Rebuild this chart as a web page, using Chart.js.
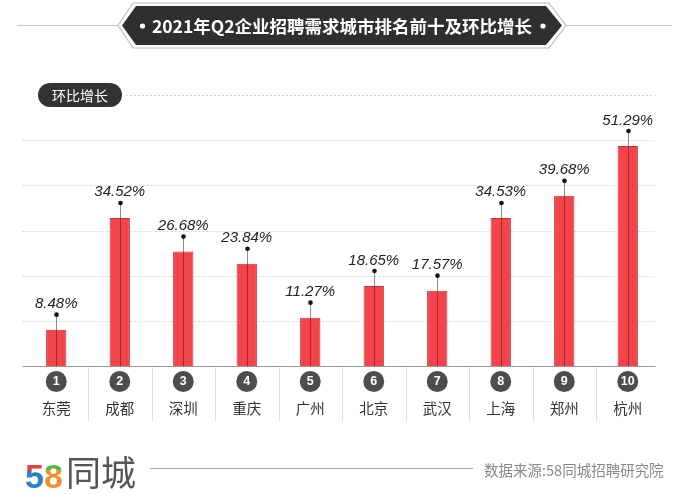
<!DOCTYPE html>
<html>
<head>
<meta charset="utf-8">
<script src="https://cdn.jsdelivr.net/npm/chart.js@4"></script>
<style>
  html, body { margin: 0; padding: 0; background: #fff; }
  #wrap { width: 679px; height: 495px; position: relative; }
</style>
</head>
<body>
<div id="wrap"><canvas id="chart" width="679" height="495"></canvas></div>
<script>
// Data
const cities = ['东莞', '成都', '深圳', '重庆', '广州', '北京', '武汉', '上海', '郑州', '杭州'];
const ranks = ['1', '2', '3', '4', '5', '6', '7', '8', '9', '10'];
const growth = [8.48, 34.52, 26.68, 23.84, 11.27, 18.65, 17.57, 34.53, 39.68, 51.29];
const titleText = '2021年Q2企业招聘需求城市排名前十及环比增长';
const badgeText = '环比增长';
const sourceText = '数据来源:58同城招聘研究院';

const yMax = 63.2;
const CJK = '"Noto Sans CJK SC", "Noto Sans", sans-serif';

// Draws the grid, banner, badge, markers, labels and footer
const decorPlugin = {
    id: 'decor',
    beforeDatasetsDraw(chart) {
        const ctx = chart.ctx;
        const area = chart.chartArea;
        const y = chart.scales.y;
        ctx.save();
        // dashed grid lines
        ctx.strokeStyle = '#d6d6d6';
        ctx.lineWidth = 1;
        ctx.setLineDash([2, 2]);
        y.ticks.forEach((t, i) => {
            if (t.value === 0) return;
            const py = Math.round(y.getPixelForValue(t.value)) + 0.5;
            const x0 = i === y.ticks.length - 1 ? 126 : area.left - 2;
            ctx.beginPath();
            ctx.moveTo(x0, py);
            ctx.lineTo(area.right - 4, py);
            ctx.stroke();
        });
        ctx.setLineDash([]);
        ctx.restore();
    },
    afterDatasetsDraw(chart) {
        const ctx = chart.ctx;
        const area = chart.chartArea;
        const x = chart.scales.x;
        const y = chart.scales.y;
        const meta = chart.getDatasetMeta(0);
        ctx.save();

        // baseline
        const base = Math.round(y.getPixelForValue(0)) + 0.5;
        ctx.strokeStyle = '#9a9a9a';
        ctx.lineWidth = 1;
        ctx.beginPath();
        ctx.moveTo(area.left - 2, base);
        ctx.lineTo(area.right - 4, base);
        ctx.stroke();

        // separators under the axis
        ctx.strokeStyle = '#dcdcdc';
        for (let i = 1; i < cities.length; i++) {
            const px = Math.round((x.getPixelForValue(i - 1) + x.getPixelForValue(i)) / 2) + 0.5;
            ctx.beginPath();
            ctx.moveTo(px, base + 1);
            ctx.lineTo(px, 421);
            ctx.stroke();
        }

        // center lines, dots, value labels
        meta.data.forEach((bar, i) => {
            const cx = Math.round(bar.x) + 0.5;
            const dotY = bar.y - 15;
            ctx.strokeStyle = 'rgba(90, 25, 25, 0.55)';
            ctx.beginPath();
            ctx.moveTo(cx, dotY);
            ctx.lineTo(cx, base);
            ctx.stroke();
            ctx.fillStyle = '#111';
            ctx.beginPath();
            ctx.arc(cx, dotY, 2.3, 0, Math.PI * 2);
            ctx.fill();
            ctx.fillStyle = '#222';
            ctx.font = 'italic 15px "Liberation Sans Narrow", "Liberation Sans", sans-serif';
            ctx.textAlign = 'center';
            ctx.textBaseline = 'alphabetic';
            ctx.fillText(growth[i].toFixed(2) + '%', bar.x, dotY - 6.5);
        });

        // rank circles and city names
        cities.forEach((c, i) => {
            const px = x.getPixelForValue(i);
            ctx.fillStyle = '#4d4d4d';
            ctx.beginPath();
            ctx.arc(px, 381.5, 10.5, 0, Math.PI * 2);
            ctx.fill();
            ctx.fillStyle = '#fff';
            ctx.font = 'bold 12.5px "Liberation Sans", sans-serif';
            ctx.textAlign = 'center';
            ctx.textBaseline = 'middle';
            ctx.fillText(ranks[i], px, 382);
            ctx.fillStyle = '#333';
            ctx.font = '14.5px ' + CJK;
            ctx.fillText(c, px, 408);
        });

        // badge
        ctx.fillStyle = '#fff';
        ctx.fillRect(0, 88, 125, 14);
        ctx.fillStyle = '#333';
        ctx.beginPath();
        ctx.roundRect(38, 83, 84, 24, 12);
        ctx.fill();
        ctx.fillStyle = '#fff';
        ctx.font = '14px ' + CJK;
        ctx.textAlign = 'center';
        ctx.textBaseline = 'middle';
        ctx.fillText(badgeText, 80, 95.5);

        // title banner
        ctx.strokeStyle = '#c8c8c8';
        ctx.lineWidth = 1;
        ctx.beginPath();
        ctx.moveTo(17, 25.5); ctx.lineTo(118, 25.5);
        ctx.moveTo(566, 25.5); ctx.lineTo(672, 25.5);
        ctx.stroke();
        ctx.strokeStyle = '#bdbdbd';
        ctx.lineWidth = 1.2;
        ctx.beginPath();
        ctx.moveTo(118, 25.5); ctx.lineTo(133, 3); ctx.lineTo(549, 3);
        ctx.lineTo(566, 25.5); ctx.lineTo(549, 48); ctx.lineTo(133, 48);
        ctx.closePath();
        ctx.stroke();
        ctx.fillStyle = '#2f2f2f';
        ctx.beginPath();
        ctx.moveTo(122, 25.5); ctx.lineTo(136, 6); ctx.lineTo(546, 6);
        ctx.lineTo(562, 25.5); ctx.lineTo(546, 45); ctx.lineTo(136, 45);
        ctx.closePath();
        ctx.fill();
        ctx.fillStyle = '#fff';
        ctx.beginPath();
        ctx.arc(142.5, 26, 2.6, 0, Math.PI * 2);
        ctx.arc(543, 26, 2.6, 0, Math.PI * 2);
        ctx.fill();
        ctx.font = 'bold 17.5px ' + CJK;
        ctx.textAlign = 'center';
        ctx.fillText(titleText, 342, 26);

        // footer logo
        ctx.textAlign = 'left';
        ctx.textBaseline = 'alphabetic';
        ctx.font = 'bold 34px "Liberation Sans", sans-serif';
        const g5 = ctx.createLinearGradient(0, 455, 0, 488);
        g5.addColorStop(0, '#e5413a'); g5.addColorStop(0.5, '#e5413a');
        g5.addColorStop(0.5, '#2f7fc4'); g5.addColorStop(1, '#2f7fc4');
        ctx.fillStyle = g5;
        ctx.fillText('5', 25, 488);
        const g8 = ctx.createLinearGradient(0, 455, 0, 488);
        g8.addColorStop(0, '#4fb848'); g8.addColorStop(0.45, '#4fb848');
        g8.addColorStop(0.45, '#f0902a'); g8.addColorStop(1, '#f0902a');
        ctx.fillStyle = g8;
        ctx.fillText('8', 44, 488);
        ctx.fillStyle = '#555';
        ctx.font = '35px ' + CJK;
        ctx.fillText('同城', 66, 486);

        ctx.strokeStyle = '#a8a8a8';
        ctx.lineWidth = 1;
        ctx.beginPath();
        ctx.moveTo(150, 468.5); ctx.lineTo(473, 468.5);
        ctx.stroke();

        ctx.fillStyle = '#888';
        ctx.font = '14.5px ' + CJK;
        ctx.textBaseline = 'middle';
        ctx.fillText(sourceText, 484, 470);

        ctx.restore();
    }
};

new Chart(document.getElementById('chart'), {
    type: 'bar',
    data: {
        labels: cities,
        datasets: [{
            data: growth,
            backgroundColor: '#f4434b',
            borderColor: '#c4323a',
            borderWidth: 1,
            barPercentage: 0.32,
            categoryPercentage: 1
        }]
    },
    options: {
        responsive: false,
        animation: false,
        events: [],
        layout: { padding: { left: 24.5, right: 19.5, top: 95, bottom: 129 } },
        plugins: {
            legend: { display: false },
            tooltip: { enabled: false }
        },
        scales: {
            x: {
                ticks: { display: false },
                grid: { display: false, drawTicks: false },
                border: { display: false }
            },
            y: {
                min: 0,
                max: yMax,
                ticks: { display: false, stepSize: yMax / 6 },
                grid: { display: false, drawTicks: false },
                border: { display: false }
            }
        }
    },
    plugins: [decorPlugin]
});
</script>
</body>
</html>
